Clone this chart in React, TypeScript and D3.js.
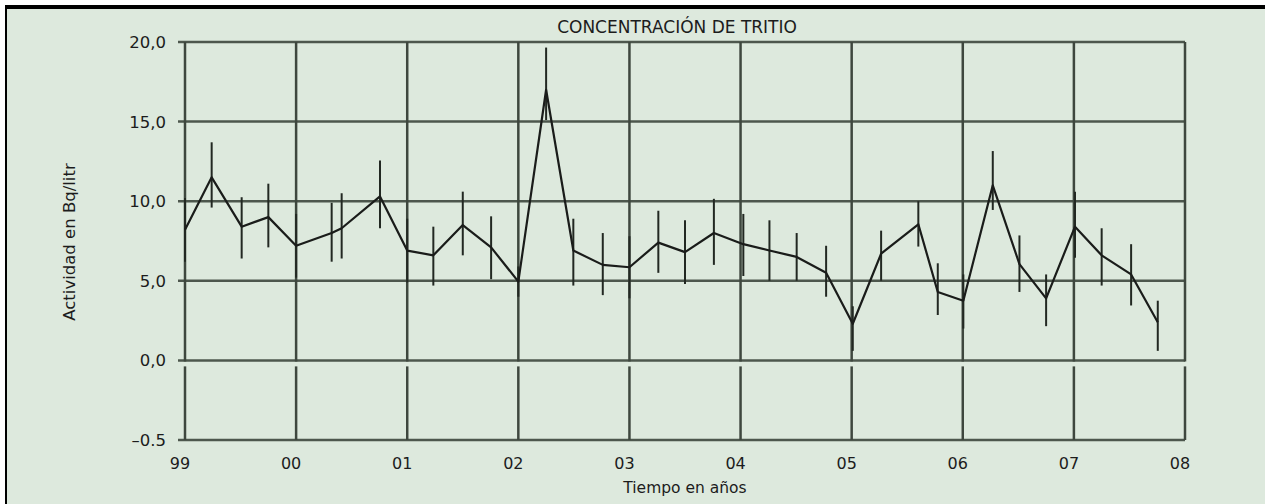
import { useEffect, useRef } from 'react';
import * as d3 from 'd3';

// fechas de muestreo (años decimales) y actividad medida en Bq/litro
const fechas = [
  1999.0, 1999.24, 1999.51, 1999.75, 2000.0, 2000.32, 2000.41, 2000.755,
  2001.0, 2001.235, 2001.5, 2001.755, 2002.0, 2002.25, 2002.495, 2002.76,
  2003.0, 2003.26, 2003.5, 2003.76, 2004.025, 2004.26, 2004.505, 2004.77,
  2005.01, 2005.265, 2005.6, 2005.775, 2006.005, 2006.27, 2006.51, 2006.75,
  2007.01, 2007.25, 2007.515, 2007.755,
];
const actividad = [
  8.2, 11.5, 8.4, 9.0, 7.2, 8.0, 8.3, 10.3, 6.9, 6.6, 8.5, 7.1, 4.95, 17.0,
  6.9, 6.0, 5.85, 7.4, 6.8, 8.0, 7.3, 6.9, 6.5, 5.5, 2.3, 6.7, 8.55, 4.3,
  3.75, 11.0, 6.05, 3.9, 8.4, 6.6, 5.4, 2.4,
];
const limiteInferior = [
  6.2, 9.6, 6.4, 7.1, 5.2, 6.2, 6.4, 8.3, 4.9, 4.7, 6.6, 5.1, 4.0, 15.1,
  4.7, 4.1, 3.9, 5.5, 4.8, 6.0, 5.3, 5.0, 5.0, 4.0, 0.6, 5.0, 7.15, 2.85,
  2.0, 9.45, 4.3, 2.15, 6.45, 4.7, 3.45, 0.6,
];
const limiteSuperior = [
  10.2, 13.7, 10.25, 11.1, 9.2, 9.9, 10.5, 12.55, 8.9, 8.4, 10.6, 9.05, 5.9,
  19.65, 8.9, 8.0, 7.8, 9.4, 8.8, 10.15, 9.2, 8.8, 8.0, 7.2, 3.4, 8.15, 10.0,
  6.1, 5.4, 13.15, 7.85, 5.4, 10.6, 8.3, 7.3, 3.75,
];

const anios = [1999, 2000, 2001, 2002, 2003, 2004, 2005, 2006, 2007, 2008];
const etiquetasAnios = ['99', '00', '01', '02', '03', '04', '05', '06', '07', '08'];
// el eje tiene un corte: la línea inferior se rotula -0.5
const ticksY = [-5, 0, 5, 10, 15, 20];
const etiquetasY = ['–0.5', '0,0', '5,0', '10,0', '15,0', '20,0'];

const width = 1265;
const height = 504;
const font = '"DejaVu Sans", sans-serif';

export default function App() {
  const svgRef = useRef<SVGSVGElement>(null);

  useEffect(() => {
    if (!svgRef.current) return;
    const svg = d3.select(svgRef.current);
    svg.selectAll('*').remove();

    const x = d3.scaleLinear().domain([1999, 2008]).range([185, 1185]);
    const y = d3.scaleLinear().domain([-5, 20]).range([440, 42]);

    // fondo y marco
    svg.append('rect').attr('width', width).attr('height', height).attr('fill', '#ffffff');
    svg
      .append('rect')
      .attr('x', 6)
      .attr('y', 7)
      .attr('width', width)
      .attr('height', height)
      .attr('fill', '#dde9dd');
    svg.append('rect').attr('x', 5).attr('y', 5).attr('width', width).attr('height', 4).attr('fill', '#000');
    svg.append('rect').attr('x', 5).attr('y', 5).attr('width', 2).attr('height', height).attr('fill', '#000');

    const grid = svg.append('g');

    // líneas horizontales
    grid
      .selectAll('line.h')
      .data(ticksY)
      .enter()
      .append('line')
      .attr('x1', x(1999) - 7)
      .attr('x2', x(2008))
      .attr('y1', (d) => y(d))
      .attr('y2', (d) => y(d))
      .attr('stroke', '#4d574d')
      .attr('stroke-width', 2.5);

    // líneas verticales, cortadas bajo el cero
    const y0 = y(0);
    grid
      .selectAll('line.va')
      .data(anios)
      .enter()
      .append('line')
      .attr('x1', (d) => x(d))
      .attr('x2', (d) => x(d))
      .attr('y1', y(20))
      .attr('y2', y0 + 1)
      .attr('stroke', '#3e473e')
      .attr('stroke-width', 2.5);
    grid
      .selectAll('line.vb')
      .data(anios)
      .enter()
      .append('line')
      .attr('x1', (d) => x(d))
      .attr('x2', (d) => x(d))
      .attr('y1', y0 + 6)
      .attr('y2', y(-5))
      .attr('stroke', '#3e473e')
      .attr('stroke-width', 2.5);

    // barras de incertidumbre
    svg
      .append('g')
      .selectAll('line')
      .data(fechas)
      .enter()
      .append('line')
      .attr('x1', (d) => x(d))
      .attr('x2', (d) => x(d))
      .attr('y1', (_d, i) => y(limiteInferior[i]))
      .attr('y2', (_d, i) => y(limiteSuperior[i]))
      .attr('stroke', '#222822')
      .attr('stroke-width', 2);

    const linea = d3
      .line<number>()
      .x((d) => x(d))
      .y((_d, i) => y(actividad[i]));

    svg
      .append('path')
      .datum(fechas)
      .attr('d', linea)
      .attr('fill', 'none')
      .attr('stroke', '#1a1c1a')
      .attr('stroke-width', 2.2)
      .attr('stroke-linejoin', 'round');

    // rótulos
    const texto = svg.append('g').attr('font-family', font).attr('fill', '#1c1c1c');

    texto
      .selectAll('text.y')
      .data(ticksY)
      .enter()
      .append('text')
      .attr('x', 166)
      .attr('y', (d) => y(d) + 6)
      .attr('text-anchor', 'end')
      .attr('font-size', 16.5)
      .text((_d, i) => etiquetasY[i]);

    texto
      .selectAll('text.x')
      .data(anios)
      .enter()
      .append('text')
      .attr('x', (d) => x(d) - 5)
      .attr('y', 469)
      .attr('text-anchor', 'middle')
      .attr('font-size', 16)
      .text((_d, i) => etiquetasAnios[i]);

    texto
      .append('text')
      .attr('x', 677)
      .attr('y', 33)
      .attr('text-anchor', 'middle')
      .attr('font-size', 17)
      .text('CONCENTRACIÓN DE TRITIO');

    texto
      .append('text')
      .attr('x', 685)
      .attr('y', 493)
      .attr('text-anchor', 'middle')
      .attr('font-size', 15.5)
      .text('Tiempo en años');

    texto
      .append('text')
      .attr('transform', 'translate(75, 242) rotate(-90)')
      .attr('text-anchor', 'middle')
      .attr('font-size', 16.5)
      .text('Actividad en Bq/litr');
  }, []);

  return (
    <svg
      ref={svgRef}
      width={width}
      height={height}
      style={{ position: 'absolute', left: 0, top: 0, display: 'block' }}
    ></svg>
  );
}
